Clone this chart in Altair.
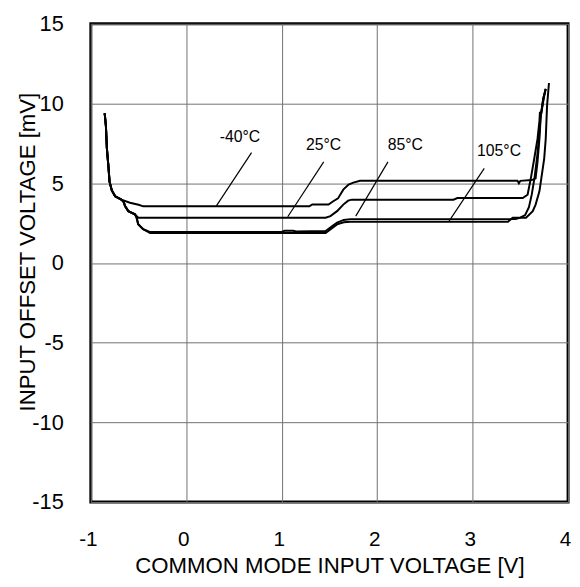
import altair as alt
import pandas as pd

# ---- data ----
x_m40 = [-0.855, -0.842, -0.832, -0.814, -0.804, -0.78, -0.745, -0.68, -0.59, -0.50, -0.45,
         1.29, 1.32, 1.49, 1.54, 1.59, 1.645, 1.70, 1.75, 1.82,
         3.47, 3.485, 3.50, 3.62, 3.66, 3.68, 3.70, 3.714, 3.74, 3.766]
y_m40 = [9.39, 8.6, 7.2, 5.93, 5.1, 4.55, 4.18, 3.97, 3.78, 3.65, 3.55,
         3.55, 3.67, 3.67, 3.87, 4.05, 4.6, 4.92, 5.04, 5.15,
         5.15, 5.0, 5.15, 5.2, 5.31, 6.34, 7.78, 9.23, 10.3, 10.92]

x_25 = [-0.855, -0.842, -0.832, -0.814, -0.804, -0.78, -0.745, -0.68, -0.66, -0.64, -0.607, -0.538, -0.504,
        1.46, 1.51, 1.58, 1.645, 1.696, 1.735, 2.80, 2.84,
        3.525, 3.576, 3.61, 3.646, 3.68, 3.70, 3.705, 3.72, 3.75, 3.766]
y_25 = [9.39, 8.6, 7.2, 5.93, 5.1, 4.55, 4.18, 3.97, 3.87, 3.56, 3.25, 3.05, 2.84,
        2.84, 2.94, 3.25, 3.66, 3.91, 3.97, 3.97, 4.07,
        4.07, 4.28, 5.31, 6.55, 7.78, 8.9, 9.43, 9.43, 10.47, 10.92]

x_85 = [-0.855, -0.842, -0.832, -0.814, -0.804, -0.78, -0.745, -0.68, -0.66, -0.64, -0.607, -0.538,
        -0.52, -0.504, -0.452, -0.383, 1.00, 1.03, 1.12, 1.15, 1.46, 1.53, 1.58, 1.65, 1.72,
        3.45, 3.50, 3.55, 3.59, 3.62, 3.65, 3.675, 3.695, 3.71, 3.74, 3.766]
y_85 = [9.39, 8.6, 7.2, 5.93, 5.1, 4.55, 4.18, 3.97, 3.87, 3.56, 3.25, 3.05,
        2.84, 2.43, 2.12, 1.95, 1.95, 2.02, 2.02, 1.97, 2.0, 2.32, 2.53, 2.70, 2.75,
        2.75, 2.84, 3.0, 3.5, 4.3, 5.4, 6.6, 7.8, 9.0, 10.3, 10.92]

x_105 = [-0.855, -0.842, -0.832, -0.814, -0.804, -0.78, -0.745, -0.68, -0.66, -0.64, -0.607, -0.538,
         -0.52, -0.504, -0.452, -0.40, -0.38, 1.46, 1.53, 1.58, 1.65, 1.72,
         3.37, 3.42, 3.56, 3.63, 3.66, 3.70, 3.72, 3.75, 3.766, 3.78, 3.80]
y_105 = [9.39, 8.6, 7.2, 5.93, 5.1, 4.55, 4.18, 3.97, 3.87, 3.56, 3.25, 3.05,
         2.84, 2.43, 2.12, 1.95, 1.88, 1.88, 2.20, 2.42, 2.55, 2.58,
         2.58, 2.84, 2.84, 3.25, 3.66, 4.49, 5.31, 6.55, 7.78, 9.85, 11.29]

series_names = ["-40°C", "25°C", "85°C", "105°C"]

label_x = [0.563, 1.438, 2.295, 3.277]
label_y = [7.89, 7.39, 7.37, 7.0]
ptr_x1 = [0.684, 1.44, 2.113, 3.122]
ptr_y1 = [6.92, 6.34, 6.34, 5.93]
ptr_x2 = [0.312, 1.063, 1.776, 2.75]
ptr_y2 = [3.55, 2.9, 2.94, 2.59]

x_ticks = [-1, 0, 1, 2, 3, 4]
y_ticks = [-15, -10, -5, 0, 5, 10, 15]

# ---- tables ----
rows = []
for name, xs, ys in zip(series_names, [x_m40, x_25, x_85, x_105], [y_m40, y_25, y_85, y_105]):
    for i, (a, b) in enumerate(zip(xs, ys)):
        rows.append({"series": name, "i": i, "x": a, "y": b})
curves = pd.DataFrame(rows)

ann = pd.DataFrame({"label": series_names, "lx": label_x, "ly": label_y,
                    "x1": ptr_x1, "y1": ptr_y1, "x2": ptr_x2, "y2": ptr_y2})

FONT = "Liberation Sans"

xscale = alt.Scale(domain=[-1, 4], nice=False, zero=False)
yscale = alt.Scale(domain=[-15, 15], nice=False, zero=False)

xaxis = alt.Axis(values=x_ticks, grid=True, gridColor="#707070", gridWidth=1, domain=False,
                 ticks=False, labelFont=FONT, labelFontSize=21, labelColor="black",
                 labelPadding=27, labelOffset=-3, labelFlush=False,
                 labelExpr="toString(datum.value)",
                 title="COMMON MODE INPUT VOLTAGE [V]",
                 titleFont=FONT, titleFontSize=22.5, titleFontWeight="normal", titleColor="black",
                 titleBaseline="alphabetic", titleY=71)
yaxis = alt.Axis(values=y_ticks, grid=True, gridColor="#707070", gridWidth=1, domain=False,
                 ticks=False, labelFont=FONT, labelFontSize=22, labelColor="black",
                 labelPadding=28, labelFlush=False, labelExpr="toString(datum.value)",
                 title="INPUT OFFSET VOLTAGE [mV]",
                 titleFont=FONT, titleFontSize=22.5, titleFontWeight="normal", titleColor="black",
                 titleBaseline="alphabetic", titleAngle=270, titleAlign="center",
                 titleX=-57, titleY=231)

lines = alt.Chart(curves).mark_line(color="black", strokeWidth=2).encode(
    x=alt.X("x:Q", scale=xscale, axis=xaxis),
    y=alt.Y("y:Q", scale=yscale, axis=yaxis),
    detail="series:N",
    order="i:Q",
)

pointers = alt.Chart(ann).mark_rule(color="black", strokeWidth=1.2).encode(
    x="x1:Q", y="y1:Q", x2="x2:Q", y2="y2:Q"
)

texts = alt.Chart(ann).mark_text(font=FONT, fontSize=16, color="black").encode(
    x="lx:Q", y="ly:Q", text="label:N"
)

chart = alt.layer(lines, pointers, texts).properties(
    width=484, height=485,
    autosize=alt.AutoSizeParams(type="none"),
    padding={"left": 84, "top": 12, "right": 4, "bottom": 76},
).configure_view(stroke="black", strokeWidth=3)

chart.save("out.html", embed_options={"renderer": "svg", "actions": False})
